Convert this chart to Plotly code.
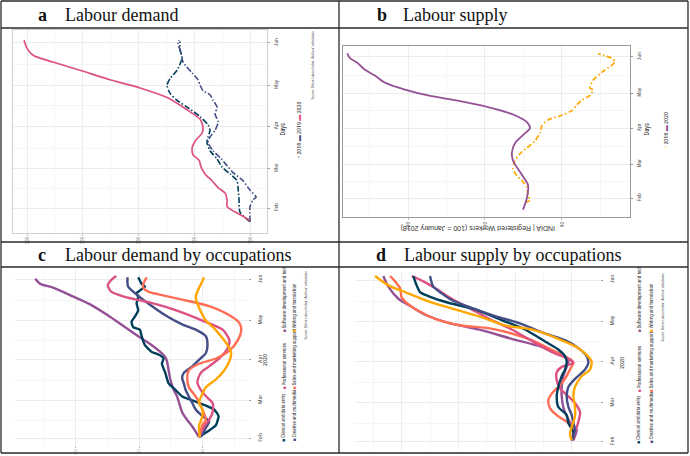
import pandas as pd
import plotly.graph_objects as go

W, H = 690, 456
BASE = pd.Timestamp("2019-12-31")  # day-of-year 1 = 2020-01-01

# ---------------- data (day-of-year 2020, index value) ----------------
month_days = [32, 61, 92, 122, 153]
month_labels = ["Feb", "Mar", "Apr", "May", "Jun"]
mid_days = [46, 76, 107, 137]

# Panel a: Labour demand
a_days_2018 = [22, 29, 38, 47, 52, 57, 62, 68, 74, 80, 84, 89, 93, 99, 106, 111, 116, 122, 127, 133, 142, 148, 154]
a_val_2018 = [100, 109.0, 109.9, 110.8, 111.7, 117.9, 125.1, 129.6, 135.9, 138.6, 137.7, 135.9, 137.7, 144.8, 156.5,
              165.5, 171.7, 174.4, 171.7, 165.5, 161.0, 162.8, 162.8]
a_days_2019 = [22, 33, 38, 40, 45, 52, 58, 63, 69, 74, 80, 84, 89, 95, 101, 106, 111, 115, 118, 122, 126, 131, 139, 146, 153, 155]
a_val_2019 = [100, 100, 97.3, 94.6, 100, 106.3, 115.2, 120.6, 126.9, 133.2, 137.7, 135.9, 131.4, 128.7, 131.4, 129.6,
              133.2, 135.9, 142.2, 144.8, 146.6, 152.0, 160.1, 161.9, 164.6, 163.7]
a_days_2020 = [23, 28, 33, 38, 43, 47, 52, 57, 62, 67, 71, 76, 81, 87, 91, 97, 104, 113, 120, 126, 133, 139, 144, 149, 155]
a_val_2020 = [100, 110.8, 120.6, 120.6, 122.4, 128.7, 134.1, 140.4, 143.9, 145.7, 151.1, 152.0, 149.3, 143.0, 142.2,
              144.8, 156.5, 174.4, 198.7, 225.6, 252.5, 276.7, 294.6, 300.0, 302.7]
a_ticks = [100, 150, 200, 250, 300]

# Panel b: Labour supply
b_days_2020 = [22, 32, 43, 52, 64, 71, 79, 86, 92, 97, 103, 110, 116, 120, 125, 131, 137, 142, 148, 152, 156]
b_val_2020 = [100.1, 99.1, 98.8, 100.4, 102.7, 103.0, 102.2, 100.1, 98.3, 99.1, 102.2, 109.2, 117.8, 124.8, 130.8,
              136.0, 138.6, 141.2, 143.2, 145.1, 145.8]
b_days_2018 = [28, 30, 34, 41, 47, 51, 57, 64, 70, 75, 81, 88, 94, 99, 103, 107, 112, 116, 120, 125, 126, 133, 140,
               146, 149, 152, 154, 156]
b_val_2018 = [99.6, 98.3, 98.8, 99.1, 100.4, 101.7, 102.7, 102.2, 100.9, 99.1, 97.0, 95.7, 95.2, 93.6, 90.0, 87.4,
              86.1, 84.8, 82.7, 81.9, 82.7, 81.9, 79.6, 77.0, 76.2, 77.0, 78.8, 80.6]
b_ticks = [90, 110, 130]

# Panel c: Labour demand by occupations
c_days_clerical = [33, 38, 42, 49, 54, 57, 61, 64, 69, 74, 82, 89, 93, 96, 98, 103, 110, 115, 117, 121, 125, 130, 135,
                   140, 143, 145, 148, 150, 155]
c_val_clerical = [102.7, 94.7, 89.3, 87.2, 90.7, 97.3, 108.0, 116.0, 121.3, 126.7, 129.3, 132.0, 130.7, 134.7, 140.0,
                  145.3, 148.0, 149.3, 154.7, 156.0, 153.3, 150.7, 152.0, 150.7, 152.0, 149.3, 145.3, 148.0, 150.7]
c_days_creative = [33, 40, 45, 49, 54, 59, 64, 69, 74, 78, 82, 87, 92, 97, 103, 110, 115, 119, 126, 135, 143, 148, 155]
c_val_creative = [101.3, 97.3, 94.7, 100.0, 105.3, 108.0, 110.7, 113.3, 114.7, 116.0, 114.7, 108.0, 102.7, 97.3, 96.0,
                  97.3, 105.3, 116.0, 129.3, 142.7, 153.3, 158.7, 159.2]
c_days_prof = [33, 41, 46, 52, 59, 63, 69, 75, 82, 87, 93, 101, 107, 115, 122, 130, 136, 140, 144, 149, 153, 156]
c_val_prof = [102.7, 98.7, 94.7, 92.0, 92.0, 96.0, 101.3, 104.0, 101.3, 94.7, 86.7, 80.0, 78.7, 84.0, 100.0, 121.3,
              142.7, 161.3, 172.0, 174.7, 172.0, 168.0]
c_days_sales = [33, 42, 46, 54, 64, 71, 79, 84, 89, 93, 99, 107, 115, 120, 126, 133, 138, 142, 144, 147, 150, 155]
c_val_sales = [102.7, 100.0, 97.3, 100.0, 105.3, 110.7, 112.0, 110.7, 102.7, 89.3, 78.7, 72.0, 69.3, 70.7, 78.7, 94.7,
               116.0, 134.7, 142.7, 146.7, 146.7, 144.0]
c_days_software = [33, 41, 46, 52, 60, 64, 69, 77, 84, 91, 94, 98, 105, 110, 117, 126, 134, 140, 147, 150, 154]
c_val_software = [102.7, 108.0, 112.0, 116.0, 118.7, 120.0, 122.7, 125.3, 126.7, 128.0, 129.3, 133.3, 142.7, 150.7,
                  161.3, 174.7, 188.0, 201.3, 217.3, 228.0, 232.0]
c_days_writing = [33, 41, 49, 54, 59, 66, 71, 77, 84, 91, 97, 103, 110, 116, 122, 129, 135, 140, 147, 152, 155]
c_val_writing = [102.1, 102.7, 100.0, 100.0, 102.7, 100.0, 97.3, 89.3, 82.7, 78.7, 77.3, 80.0, 85.3, 90.7, 97.3, 101.3,
                 104.0, 105.3, 102.7, 100.0, 98.7]
c_ticks = [100, 150, 200]

# Panel d: Labour supply by occupations
d_days_clerical = [33, 39, 46, 52, 58, 66, 73, 81, 86, 91, 96, 101, 107, 116, 123, 131, 136, 141, 144, 149, 156]
d_val_clerical = [100, 98.5, 102.9, 104.4, 111.8, 113.2, 111.8, 108.8, 105.9, 104.4, 105.9, 111.8, 123.5, 141.2, 161.8,
                  185.3, 208.8, 226.5, 233.8, 236.8, 239.7]
d_days_creative = [33, 41, 46, 52, 58, 66, 73, 79, 86, 91, 96, 102, 108, 113, 121, 126, 133, 138, 143, 148, 156]
d_val_creative = [100, 97.1, 98.5, 100, 102.9, 104.4, 102.9, 97.1, 88.2, 85.3, 86.8, 94.1, 105.9, 123.5, 147.1, 167.6,
                  191.2, 205.9, 214.7, 222.1, 225.0]
d_days_prof = [33, 39, 47, 54, 61, 67, 72, 78, 84, 88, 91, 94, 98, 106, 116, 123, 131, 139, 147, 152, 156]
d_val_prof = [100, 97.1, 94.1, 92.6, 97.1, 104.4, 110.3, 113.2, 113.2, 108.8, 98.5, 102.9, 114.7, 132.4, 152.9, 170.6,
              188.2, 205.9, 220.6, 230.9, 241.2]
d_days_sales = [33, 41, 46, 51, 57, 63, 68, 73, 79, 86, 91, 93, 97, 102, 108, 113, 117, 119, 124, 133, 140, 147, 152, 156]
d_val_sales = [100, 98.5, 102.9, 111.8, 119.1, 120.6, 117.6, 111.8, 105.9, 101.5, 98.5, 100, 108.8, 120.6, 135.3, 152.9,
               173.5, 197.1, 220.6, 241.2, 250.0, 251.5, 255.9, 260.3]
d_days_software = [33, 41, 43, 51, 58, 66, 73, 81, 88, 92, 97, 103, 109, 116, 121, 127, 133, 139, 148, 156]
d_val_software = [98.5, 95.6, 98.5, 104.4, 107.4, 108.8, 108.8, 107.4, 104.4, 102.9, 108.8, 126.5, 152.9, 182.4, 208.8,
                  229.4, 241.2, 252.9, 261.8, 266.2]
d_days_writing = [33, 38, 43, 51, 58, 66, 73, 81, 86, 92, 97, 102, 109, 116, 119, 126, 131, 137, 144, 149, 156]
d_val_writing = [100, 101.5, 100, 97.1, 97.1, 98.5, 97.1, 91.2, 83.8, 82.4, 86.8, 94.1, 111.8, 135.3, 158.8, 182.4,
                 202.9, 226.5, 247.1, 261.8, 273.5]
d_ticks = [100, 150, 200, 250]

occupations = ["Clerical and data entry", "Creative and multimedia", "Professional services",
               "Sales and marketing support", "Software development and tech", "Writing and translation"]
years_a = ["2018", "2019", "2020"]
years_b = ["2018", "2020"]

# ---------------- styling ----------------
C_TEAL, C_BLUE, C_PURP, C_PINK, C_CORAL, C_ORANGE = "#003f5c", "#444e86", "#955196", "#dd5182", "#ff6e54", "#ffa600"
NARROW = "Liberation Sans Narrow, Arial Narrow, Roboto Condensed, Liberation Sans, sans-serif"
SERIF = "Liberation Serif, Times New Roman, serif"
GRID = "#ececec"
MINOR = "#f5f5f5"


def dates(days):
    return [(BASE + pd.Timedelta(days=float(d))).strftime("%Y-%m-%d %H:%M") for d in days]


def px(x):
    return x / W


def py(y):
    return 1 - y / H


fig = go.Figure()


def add(days, vals, color, n, width, dash="solid", smooth=0.7):
    fig.add_trace(go.Scatter(
        x=vals, y=dates(days), mode="lines",
        line=dict(color=color, width=width, dash=dash, shape="spline", smoothing=smooth),
        xaxis="x" if n == 1 else f"x{n}", yaxis="y" if n == 1 else f"y{n}",
        showlegend=False, hoverinfo="skip"))


DD = "6px,2px,1.5px,2px"
add(a_days_2018, a_val_2018, C_TEAL, 1, 1.6, DD)
add(a_days_2019, a_val_2019, C_BLUE, 1, 1.6, DD)
add(a_days_2020, a_val_2020, C_PINK, 1, 1.7)

add(b_days_2018, b_val_2018, C_ORANGE, 2, 1.7, "5px,2.5px,1.5px,2.5px")
add(b_days_2020, b_val_2020, C_PURP, 2, 1.8)

LW = 2.4
add(c_days_software, c_val_software, C_PURP, 3, LW)
add(c_days_clerical, c_val_clerical, C_TEAL, 3, LW, smooth=0.4)
add(c_days_creative, c_val_creative, C_BLUE, 3, LW)
add(c_days_prof, c_val_prof, C_PINK, 3, LW)
add(c_days_sales, c_val_sales, C_CORAL, 3, LW)
add(c_days_writing, c_val_writing, C_ORANGE, 3, LW)

add(d_days_software, d_val_software, C_PURP, 4, LW)
add(d_days_sales, d_val_sales, C_CORAL, 4, LW)
add(d_days_prof, d_val_prof, C_PINK, 4, LW)
add(d_days_clerical, d_val_clerical, C_TEAL, 4, LW)
add(d_days_creative, d_val_creative, C_BLUE, 4, LW)
add(d_days_writing, d_val_writing, C_ORANGE, 4, LW)


def mids(t):
    return [(t[i] + t[i + 1]) / 2 for i in range(len(t) - 1)] + [t[0] - (t[1] - t[0]) / 2, t[-1] + (t[1] - t[0]) / 2]


def xaxis(n, x0, x1, rng, ticks, anchor, showlabels, frame, linecolor="#cccccc", lblsize=5, lblcolor="#8a8a8a"):
    return dict(domain=[px(x0), px(x1)], range=rng, anchor=anchor,
                tickmode="array", tickvals=ticks, ticktext=[str(t) for t in ticks],
                showticklabels=showlabels, tickangle=-90, ticks="outside" if showlabels else "",
                ticklen=1.5, tickcolor="#bbbbbb",
                tickfont=dict(size=lblsize, color=lblcolor, family=NARROW),
                showgrid=True, gridcolor=GRID, gridwidth=1, zeroline=False,
                minor=dict(tickvals=mids(ticks), showgrid=True, gridcolor=MINOR, gridwidth=1),
                showline=frame, mirror=frame, linecolor=linecolor, linewidth=1, fixedrange=True)


def yaxis(y0, y1, d0, d1, anchor, frame, linecolor="#cccccc", standoff=1, size=5.5):
    return dict(domain=[py(y1), py(y0)], type="date", range=dates([d0, d1]), anchor=anchor, side="right",
                tickmode="array", tickvals=dates(month_days), ticktext=month_labels, tickangle=-90,
                ticks="outside", ticklen=2, tickcolor="#999999", ticklabelstandoff=standoff,
                tickfont=dict(size=size, color="#555555", family=NARROW),
                showgrid=True, gridcolor=GRID, gridwidth=1, zeroline=False,
                minor=dict(tickvals=dates(mid_days), showgrid=True, gridcolor=MINOR, gridwidth=1),
                showline=frame, mirror=frame, linecolor=linecolor, linewidth=1, fixedrange=True)


layout = dict(
    width=W, height=H, margin=dict(l=0, r=0, t=0, b=0),
    paper_bgcolor="white", plot_bgcolor="white", showlegend=False,
    font=dict(family=NARROW, color="#333333"),
    xaxis=xaxis(1, 13, 267, [312.6, 84.8], a_ticks, "y", True, True, "#cfcfcf", 4.5),
    yaxis=yaxis(30, 233, 13.7, 162.5, "x", True, "#cfcfcf"),
    xaxis2=xaxis(2, 343, 630, [146.9, 72.3], b_ticks, "y2", True, True, "#9a9a9a", 5.5, "#666666"),
    yaxis2=yaxis(46, 217, 15.7, 162.4, "x2", True, "#9a9a9a"),
    xaxis3=xaxis(3, 15, 248, [248, 64], c_ticks, "y3", True, False, lblsize=4, lblcolor="#b0b0b0"),
    yaxis3=yaxis(270, 445, 26.9, 160.6, "x3", False, standoff=4, size=6),
    xaxis4=xaxis(4, 355, 600, [291.2, 75], d_ticks, "y4", False, False),
    yaxis4=yaxis(272, 450, 25.8, 159.0, "x4", False, standoff=4, size=6),
)
fig.update_layout(**layout)

ann = []


def text(x, y, t, size, family=NARROW, color="#333333", angle=0, xa="center", ya="middle"):
    ann.append(dict(x=px(x), y=py(y), xref="paper", yref="paper", text=t, showarrow=False,
                    textangle=angle, xanchor=xa, yanchor=ya,
                    font=dict(size=size, family=family, color=color), borderpad=0))


# Headers
text(37, 14.5, "<b>a</b>", 18, SERIF, "#111111", xa="left")
text(64, 14.5, "Labour demand", 18, SERIF, "#111111", xa="left")
text(376, 14.5, "<b>b</b>", 18, SERIF, "#111111", xa="left")
text(402, 14.5, "Labour supply", 18, SERIF, "#111111", xa="left")
text(37, 254.5, "<b>c</b>", 18, SERIF, "#111111", xa="left")
text(64, 254.5, "Labour demand by occupations", 18, SERIF, "#111111", xa="left")
text(375, 254.5, "<b>d</b>", 18, SERIF, "#111111", xa="left")
text(403, 254.5, "Labour supply by occupations", 18, SERIF, "#111111", xa="left")

# Axis titles
text(282.5, 130, "Days", 6.5, angle=-90)
text(646.5, 130, "Days", 6.5, angle=-90)
text(264, 360, "2020", 6, angle=-90)
text(621, 363, "2020", 6, angle=-90)
text(478, 228, "INDIA | Registered Workers (100 = January 2018)", 7, "Liberation Sans, sans-serif", "#333333", angle=180)

# Legends
sq = "■"
text(298, 130, f"<span style='color:{C_TEAL}'>•</span> {years_a[0]} <span style='color:{C_BLUE}'>▬</span> {years_a[1]} "
               f"<span style='color:{C_PINK}'>▬</span> {years_a[2]}", 6, angle=-90)
text(665, 130, f"<span style='color:{C_ORANGE}'>•</span> {years_b[0]} <span style='color:{C_PURP}'>▬</span> {years_b[1]}",
     6, angle=-90)

occ_cols = [C_TEAL, C_BLUE, C_PINK, C_CORAL, C_PURP, C_ORANGE]


def occ_legend(x1, x2, ys):
    for i, (name, col) in enumerate(zip(occupations, occ_cols)):
        x = x1 if i % 2 == 0 else x2
        y = ys[i // 2]
        text(x, y, f"<span style='color:{col}'>{sq}</span> {name}", 5, angle=-90, ya="bottom")


occ_legend(283, 293, [443, 391, 334])
occ_legend(638, 650, [445, 394, 334])

# Sources
src = "Source: Online Labour Index - Authors' calculation"
text(312, 30, src, 3.5, angle=-90, ya="top", color="#444444")
text(305, 270, src, 3.5, angle=-90, ya="top", color="#444444")
text(662, 272, src, 3.5, angle=-90, ya="top", color="#444444")

fig.update_layout(annotations=ann)

# Table borders
BC = "#2a2a2a"
shapes = []


def hline(y, x0=1, x1=688):
    shapes.append(dict(type="line", xref="paper", yref="paper", x0=px(x0), x1=px(x1), y0=py(y), y1=py(y),
                       line=dict(color=BC, width=1.3)))


def vline(x, y0=1, y1=453):
    shapes.append(dict(type="line", xref="paper", yref="paper", x0=px(x), x1=px(x), y0=py(y0), y1=py(y1),
                       line=dict(color=BC, width=1.3)))


for y in (1, 28, 242, 267, 453):
    hline(y)
for x in (1, 339, 688):
    vline(x)
fig.update_layout(shapes=shapes)

fig.write_html("out.html", config={"displayModeBar": False},
               post_script="document.body.style.margin='0';document.body.style.padding='0';")
